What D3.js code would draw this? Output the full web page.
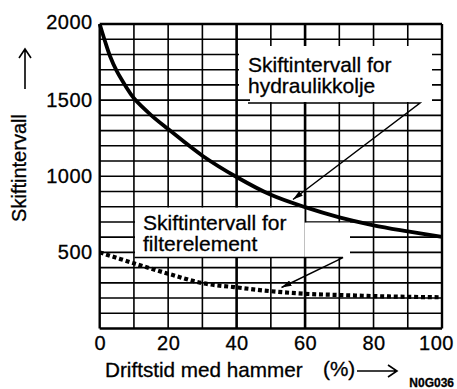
<!DOCTYPE html>
<html>
<head>
<meta charset="utf-8">
<script src="https://cdn.jsdelivr.net/npm/d3@7"></script>
<style>
  html, body { margin: 0; padding: 0; background: #fff; }
  svg { display: block; font-family: "Liberation Sans", Arial, Helvetica, sans-serif; }
  svg text { stroke: #000; stroke-width: 0.3px; }
</style>
</head>
<body>
<svg id="chart" width="457" height="389"></svg>
<script>
// Operating time with hammer (%) and change intervals (hours)
const hammerPct = [0, 1.5, 3, 5, 7.5, 10, 15, 20, 30, 40, 50, 60, 70, 80, 90, 100];
const hydraulicOil = [2000, 1890, 1790, 1690, 1595, 1512, 1402, 1310, 1135, 995, 878, 797, 730, 678, 638, 601];
const filterPct = [0, 10, 20, 30, 40, 50, 60, 70, 80, 90, 100];
const filterElement = [500, 428, 360, 298, 270, 245, 228, 220, 213, 208, 205];
const xTicks = [0, 20, 40, 60, 80, 100];
const yTicks = [500, 1000, 1500, 2000];
const xGrid = d3.range(0, 101, 10);
const yGrid = d3.range(0, 2001, 100);

const svg = d3.select("#chart");
const plotL = 99.7, plotR = 442, plotT = 24, plotB = 328.5;
const x = d3.scaleLinear().domain([0, 100]).range([plotL, plotR]);
const y = d3.scaleLinear().domain([0, 2000]).range([plotB, plotT]);

// grid
const grid = svg.append("g");
grid.selectAll("line.v").data(xGrid).join("line")
  .attr("x1", d => x(d)).attr("x2", d => x(d))
  .attr("y1", plotT).attr("y2", plotB)
  .attr("stroke", "#000")
  .attr("stroke-width", d => (d === 40 || d === 60) ? 2.6 : (d === 0 || d === 100 ? 2.4 : 1.6));
grid.selectAll("line.h").data(yGrid).join("line")
  .attr("x1", plotL).attr("x2", plotR)
  .attr("y1", d => y(d)).attr("y2", d => y(d))
  .attr("stroke", "#000")
  .attr("stroke-width", d => (d === 0 || d === 2000) ? 2.4 : 1.6);

// white label panels over the grid
const panels = [
  [239, 46, 193, 51],
  [250, 96, 182, 6],
  [135, 207.6, 169.5, 50],
  [304.5, 222.6, 45.5, 35]
];
svg.append("g").selectAll("rect").data(panels).join("rect")
  .attr("x", d => d[0]).attr("y", d => d[1])
  .attr("width", d => d[2]).attr("height", d => d[3])
  .attr("fill", "#fff");

// curves
const line = (xs, ys) => d3.line()
  .x((d, i) => x(xs[i])).y(d => y(d))
  .curve(d3.curveCatmullRom.alpha(0.5))(ys);

svg.append("path").attr("d", line(filterPct, filterElement))
  .attr("fill", "none").attr("stroke", "#000")
  .attr("stroke-width", 4.2).attr("stroke-dasharray", "4,2.8");

svg.append("path").attr("d", line(hammerPct, hydraulicOil))
  .attr("fill", "none").attr("stroke", "#000")
  .attr("stroke-width", 3.8);

// label texts
const labels = svg.append("g").attr("font-size", 21).attr("fill", "#000");
labels.append("text").attr("x", 248).attr("y", 71.5).text("Skiftintervall for");
labels.append("text").attr("x", 248).attr("y", 92.5).text("hydraulikkolje");
labels.append("text").attr("x", 143).attr("y", 229.5).text("Skiftintervall for");
labels.append("text").attr("x", 143).attr("y", 251).text("filterelement");

// leader lines with arrow tips
const defs = svg.append("defs");
defs.append("marker").attr("id", "tip")
  .attr("viewBox", "0 0 10 6").attr("refX", 10).attr("refY", 3)
  .attr("markerWidth", 10).attr("markerHeight", 6)
  .attr("markerUnits", "userSpaceOnUse").attr("orient", "auto")
  .append("path").attr("d", "M0,0 L10,3 L0,6 Z").attr("fill", "#000");

const leaders = [
  [[248, 103], [420, 103], [293, 199.5]],
  [[134.5, 257.6], [343, 257.6], [281.5, 287.5]]
];
svg.append("g").selectAll("path").data(leaders).join("path")
  .attr("d", d => d3.line()(d))
  .attr("fill", "none").attr("stroke", "#000").attr("stroke-width", 1.5)
  .attr("marker-end", "url(#tip)");

// axes tick labels
const fmtAxis = g => { g.select(".domain").remove(); g.selectAll(".tick line").remove(); };
svg.append("g").attr("transform", `translate(0,${plotB})`)
  .call(d3.axisBottom(x).tickValues(xTicks).tickSize(0).tickPadding(7).tickFormat(d3.format("d")))
  .call(fmtAxis)
  .call(g => g.selectAll("text").attr("font-size", 20).attr("fill", "#000")
    .attr("font-family", "Liberation Sans, Arial, sans-serif")
    .attr("letter-spacing", 0.5)
    .attr("dy", "0.71em")
    .attr("dx", d => d === 100 ? -6 : 0));

svg.append("g").attr("transform", `translate(${plotL},0)`)
  .call(d3.axisLeft(y).tickValues(yTicks).tickSize(0).tickPadding(7).tickFormat(d3.format("d")))
  .call(fmtAxis)
  .call(g => g.selectAll("text").attr("font-size", 20).attr("fill", "#000")
    .attr("font-family", "Liberation Sans, Arial, sans-serif")
    .attr("letter-spacing", 0.5)
    .attr("dy", d => d === 2000 ? "0.22em" : "0.32em"));

// axis titles
svg.append("text").attr("x", 105).attr("y", 377).attr("font-size", 20.7).text("Driftstid med hammer");
svg.append("text").attr("x", 323).attr("y", 376).attr("font-size", 20.7).text("(%)");
svg.append("text").attr("transform", "translate(25.5,168) rotate(-90)")
  .attr("text-anchor", "middle").attr("font-size", 20).text("Skiftintervall");
svg.append("text").attr("x", 454).attr("y", 386.5).attr("text-anchor", "end")
  .attr("font-size", 12).attr("font-weight", "bold").text("N0G036");

// direction arrows
const arrows = svg.append("g").attr("fill", "none").attr("stroke", "#000").attr("stroke-width", 1.6);
arrows.append("path").attr("d", "M357,371 L397,371 M388,365 L397,371 L388,377");
arrows.append("path").attr("d", "M25,89 L25,49 M19,58 L25,49 L31,58");
</script>
</body>
</html>
